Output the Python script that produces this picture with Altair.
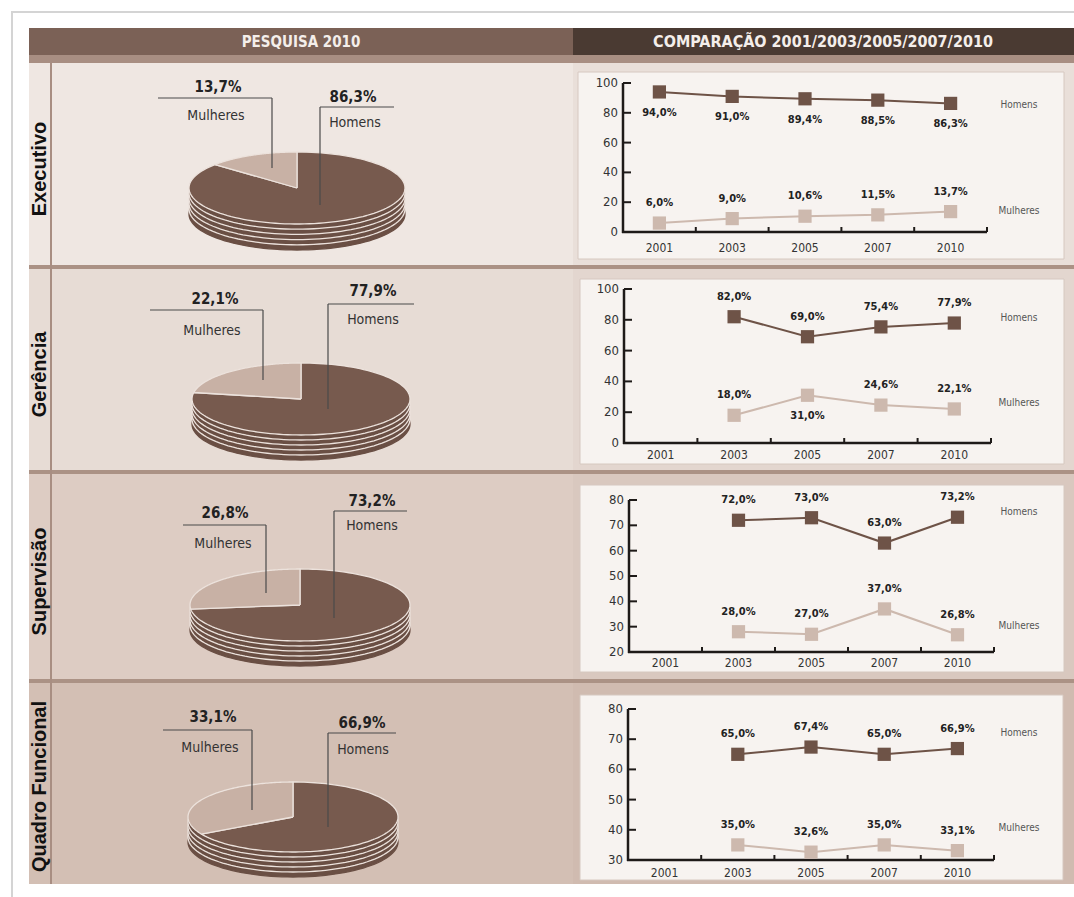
import altair as alt
import pandas as pd

# ---------------- data ----------------
ROW_NAMES = ["Executivo", "Gerência", "Supervisão", "Quadro Funcional"]
YEARS = ["2001", "2003", "2005", "2007", "2010"]
SERIES = ["Homens", "Mulheres"]

exec_homens = [94.0, 91.0, 89.4, 88.5, 86.3]
exec_mulheres = [6.0, 9.0, 10.6, 11.5, 13.7]
ger_homens = [None, 82.0, 69.0, 75.4, 77.9]
ger_mulheres = [None, 18.0, 31.0, 24.6, 22.1]
sup_homens = [None, 72.0, 73.0, 63.0, 73.2]
sup_mulheres = [None, 28.0, 27.0, 37.0, 26.8]
qf_homens = [None, 65.0, 67.4, 65.0, 66.9]
qf_mulheres = [None, 35.0, 32.6, 35.0, 33.1]

pie_homens_2010 = [86.3, 77.9, 73.2, 66.9]
pie_mulheres_2010 = [13.7, 22.1, 26.8, 33.1]

y_domains = [[0, 100], [0, 100], [20, 80], [30, 80]]
y_tick_values = [[0, 20, 40, 60, 80, 100], [0, 20, 40, 60, 80, 100],
                 [20, 30, 40, 50, 60, 70, 80], [30, 40, 50, 60, 70, 80]]

HEADER_LEFT = "PESQUISA 2010"
HEADER_RIGHT = "COMPARAÇÃO 2001/2003/2005/2007/2010"

LINE_DATA = [(exec_homens, exec_mulheres), (ger_homens, ger_mulheres),
             (sup_homens, sup_mulheres), (qf_homens, qf_mulheres)]

# ---------------- layout / style (not data) ----------------
LABELS_BELOW = {(0, "Homens", y) for y in YEARS} | {(1, "Mulheres", "2005")}

ROW_H = [206, 205, 209, 201]
FRAME_W, FRAME_H, BOTTOM_H = 18, 17, 13
LABEL_W, PIE_W, LINE_W, HEADER_H = 23, 521, 501, 35

LAYOUT = [
    dict(pie=dict(cx=245, cy=125, rx=108, ry=36, t=26,
                  m_line=(106, 220, 35, 105), m_pct=(166, 24), m_name=(164, 53),
                  h_line=(268, 342, 44, 142), h_pct=(301, 34), h_name=(303, 60)),
         box=(5, 491, 9, 196), xr=(50, 414), yr=(169, 20), ser_y=(42, 148), xlab=16),
    dict(pie=dict(cx=249, cy=130, rx=109, ry=36, t=25,
                  m_line=(98, 211, 41, 111), m_pct=(163, 30), m_name=(160, 62),
                  h_line=(276, 362, 35, 140), h_pct=(321, 22), h_name=(321, 51)),
         box=(7, 491, 10, 195), xr=(51, 418), yr=(174, 20), ser_y=(49, 134), xlab=12),
    dict(pie=dict(cx=248, cy=131, rx=110, ry=36, t=25,
                  m_line=(131, 214, 51, 119), m_pct=(173, 39), m_name=(171, 70),
                  h_line=(282, 355, 37, 144), h_pct=(320, 27), h_name=(320, 52)),
         box=(7, 491, 11, 198), xr=(56, 421), yr=(178, 26), ser_y=(38, 152), xlab=11),
    dict(pie=dict(cx=241, cy=134, rx=105, ry=35, t=25,
                  m_line=(111, 200, 47, 127), m_pct=(161, 34), m_name=(158, 65),
                  h_line=(276, 344, 50, 144), h_pct=(310, 40), h_name=(311, 67)),
         box=(7, 490, 12, 197), xr=(55, 421), yr=(177, 26), ser_y=(50, 145), xlab=13),
]

C = dict(
    head_l="#7b6156", head_r="#4a3a32", stripe="#a88e82", sep="#ab9285", vline="#a88e82",
    bg_left=["#efe7e2", "#e7dcd5", "#ddccc3", "#d3bfb4"],
    bg_right=["#e9dfd9", "#e3d6cf", "#d9c8bf", "#d0bbb0"],
    box="#f7f3f0", box_edge="#d6c8c0",
    pie_h="#775a4e", pie_side="#6a4f44", pie_m="#c8b1a5", pie_edge="#ece2dc",
    line_h="#6e5347", line_m="#cdb9ae", axis="#1e1a18", text="#222222",
    muted="#555555", head_text="#f4eeea", leader="#4a4a4a", frame="#d4d4d4")

COND = "Liberation Sans Narrow, DejaVu Sans Condensed, Arial Narrow, sans-serif"
BOLD = "Liberation Sans, Arial, sans-serif"

DUMMY = pd.DataFrame({"d": [0]})
N = 120
RING = pd.DataFrame({"k": list(range(N + 1))})


def fmt(v):
    return f"{v:.1f}".replace(".", ",") + "%"


def rect(x0, x1, y0, y1, fill, **kw):
    return alt.Chart(DUMMY).mark_rect(fill=fill, **kw).encode(
        x=alt.value(x0), x2=alt.value(x1), y=alt.value(y0), y2=alt.value(y1))


def hrule(x0, x1, y, color, w):
    return alt.Chart(DUMMY).mark_rule(color=color, strokeWidth=w).encode(
        x=alt.value(x0), x2=alt.value(x1), y=alt.value(y))


def vrule(x, y0, y1, color, w):
    return alt.Chart(DUMMY).mark_rule(color=color, strokeWidth=w).encode(
        x=alt.value(x), y=alt.value(y0), y2=alt.value(y1))


def cell(layers, w, h, fill):
    return alt.layer(*layers).properties(
        width=w, height=h, view=alt.ViewBackground(fill=fill, strokeWidth=0))


def frame_cell(h, top=False, left=True, w=FRAME_W):
    layers = []
    if left:
        layers.append(rect(0, 2, 1 if top else 0, h, C["frame"]))
    if top:
        layers.append(rect(0, w, 0, 2, C["frame"]))
    if not layers:
        layers.append(rect(0, 0, 0, 0, "#ffffff"))
    return cell(layers, w, h, "#ffffff")


def header_cell(text, w, fill, cx, size):
    layers = [rect(0, w, 27, HEADER_H, C["stripe"])]
    if text:
        layers.append(alt.Chart(pd.DataFrame({"t": [text]})).mark_text(
            font=COND, fontSize=size, fontWeight="bold", color=C["head_text"],
            align="center", baseline="middle").encode(
            x=alt.value(cx), y=alt.value(14), text="t:N"))
    return cell(layers, w, HEADER_H, fill)


def label_cell(i):
    H = ROW_H[i]
    txt = alt.Chart(pd.DataFrame({"name": [ROW_NAMES[i]]})).mark_text(
        angle=270, font=BOLD, fontSize=20, fontWeight="bold", color="#111111",
        align="center", baseline="middle").encode(
        x=alt.value(11), y=alt.value(H / 2 + 3), text="name:N")
    layers = []
    if i < 3:
        layers.append(rect(0, LABEL_W, H - 4, H, C["sep"]))
    layers += [rect(21, 23, 0, H, C["vline"]), txt]
    return cell(layers, LABEL_W, H, C["bg_left"][i])


def pie_cell(i):
    H = ROW_H[i]
    P = LAYOUT[i]["pie"]
    xs = alt.Scale(domain=[-1, 1], range=[P["cx"] - P["rx"], P["cx"] + P["rx"]], nice=False, zero=False)
    ys = alt.Scale(domain=[-1, 1], range=[P["cy"] + P["ry"], P["cy"] - P["ry"]], nice=False, zero=False)
    enc = dict(x=alt.X("px:Q", scale=xs, axis=None),
               y=alt.Y("py:Q", scale=ys, axis=None),
               order=alt.Order("k:Q"))
    layers = []
    if i < 3:
        layers.append(rect(0, PIE_W, H - 4, H, C["sep"]))
    # stacked side discs (3D thickness)
    for j in range(5, 0, -1):
        drop = P["t"] * j / 5 / P["ry"]
        layers.append(alt.Chart(RING).transform_calculate(
            px=f"sin(2*PI*datum.k/{N})",
            py=f"cos(2*PI*datum.k/{N}) - {drop}",
        ).mark_line(fill=C["pie_side"], stroke=C["pie_edge"] if j < 5 else C["pie_side"],
                    strokeWidth=1.3).encode(**enc))
    # top surface slices, angles from the 2010 shares
    slice_df = pd.DataFrame([
        {"serie": s, "share": v, "k": k}
        for s, v in (("Homens", pie_homens_2010[i]), ("Mulheres", pie_mulheres_2010[i]))
        for k in range(-1, N + 2)])
    for s, col in (("Homens", C["pie_h"]), ("Mulheres", C["pie_m"])):
        layers.append(alt.Chart(slice_df).transform_filter(
            f"datum.serie == '{s}'"
        ).transform_calculate(
            ang=f"(datum.serie == 'Mulheres' ? -1 : 1) * 2 * PI * datum.share / 100 * clamp(datum.k, 0, {N}) / {N}"
        ).transform_calculate(
            px=f"(datum.k < 0 || datum.k > {N}) ? 0 : sin(datum.ang)",
            py=f"(datum.k < 0 || datum.k > {N}) ? 0 : cos(datum.ang)",
        ).mark_line(fill=col, stroke=C["pie_edge"], strokeWidth=1.3, strokeJoin="round").encode(**enc))
    # leader lines
    ml, hl = P["m_line"], P["h_line"]
    layers += [hrule(ml[0], ml[1], ml[2], C["leader"], 1.2),
               vrule(ml[1], ml[2], ml[3], C["leader"], 1.2),
               hrule(hl[0], hl[1], hl[2], C["leader"], 1.2),
               vrule(hl[0], hl[2], hl[3], C["leader"], 1.2)]
    # texts
    lab = pd.DataFrame({"serie": SERIES,
                        "lbl": [fmt(pie_homens_2010[i]), fmt(pie_mulheres_2010[i])]})
    for s, pct_pos, name_pos in (("Mulheres", P["m_pct"], P["m_name"]),
                                 ("Homens", P["h_pct"], P["h_name"])):
        layers.append(alt.Chart(lab).transform_filter(f"datum.serie == '{s}'").mark_text(
            font=COND, fontSize=15, fontWeight="bold", color=C["text"], baseline="middle").encode(
            x=alt.value(pct_pos[0]), y=alt.value(pct_pos[1]), text="lbl:N"))
        layers.append(alt.Chart(lab).transform_filter(f"datum.serie == '{s}'").mark_text(
            font=COND, fontSize=14, color="#333333", baseline="middle").encode(
            x=alt.value(name_pos[0]), y=alt.value(name_pos[1]), text="serie:N"))
    return cell(layers, PIE_W, H, C["bg_left"][i])


def line_frame(i):
    rows = []
    for serie, vals in zip(SERIES, LINE_DATA[i]):
        for y, v in zip(YEARS, vals):
            if v is None:
                continue
            rows.append(dict(year=y, value=v, serie=serie, lbl=fmt(v),
                             below=(i, serie, y) in LABELS_BELOW))
    return pd.DataFrame(rows)


def line_cell(i):
    H = ROW_H[i]
    L = LAYOUT[i]
    x0, x1 = L["xr"]
    yb, yt = L["yr"]
    df = line_frame(i)
    xs = alt.Scale(type="band", domain=YEARS, range=[x0, x1], paddingInner=0, paddingOuter=0)
    ys = alt.Scale(domain=y_domains[i], range=[yb, yt], nice=False, zero=False)
    cs = alt.Scale(domain=SERIES, range=[C["line_h"], C["line_m"]])
    X = alt.X("year:O", scale=xs, axis=None)
    Y = alt.Y("value:Q", scale=ys, axis=None)
    col = alt.Color("serie:N", scale=cs, legend=None)
    base = alt.Chart(df)
    ticks_df = pd.DataFrame({"t": y_tick_values[i]})
    years_df = pd.DataFrame({"year": YEARS})

    layers = []
    if i < 3:
        layers.append(rect(0, LINE_W, H - 4, H, C["sep"]))
    bx = L["box"]
    layers.append(rect(bx[0], bx[1], bx[2], bx[3], C["box"], stroke=C["box_edge"], strokeWidth=1))
    # axis lines
    layers.append(vrule(x0, yb + 1, yt, C["axis"], 2.5))
    layers.append(hrule(x0 - 1, x1, yb, C["axis"], 2.5))
    # y ticks (inward) and labels
    layers.append(alt.Chart(ticks_df).mark_rule(color=C["axis"], strokeWidth=2).encode(
        y=alt.Y("t:Q", scale=ys, axis=None), x=alt.value(x0), x2=alt.value(x0 + 8)))
    layers.append(alt.Chart(ticks_df).mark_text(
        font=COND, fontSize=13, color="#333333", align="right", baseline="middle").encode(
        y=alt.Y("t:Q", scale=ys, axis=None), x=alt.value(x0 - 5), text="t:Q"))
    # x ticks (upward at band edges) and labels
    layers.append(alt.Chart(years_df).mark_rule(color=C["axis"], strokeWidth=2).encode(
        x=alt.X("year:O", scale=xs, axis=None, bandPosition=1),
        y=alt.value(yb), y2=alt.value(yb - 5)))
    layers.append(alt.Chart(years_df).mark_text(
        font=COND, fontSize=12, color="#333333", baseline="middle").encode(
        x=X, y=alt.value(yb + L["xlab"]), text="year:N"))
    # series
    layers.append(base.mark_line(strokeWidth=2).encode(x=X, y=Y, color=col))
    layers.append(base.mark_square(size=175, opacity=1).encode(x=X, y=Y, color=col))
    layers.append(base.transform_filter("!datum.below").mark_text(
        dy=-20, font=COND, fontSize=11, fontWeight="bold", color=C["text"]).encode(
        x=X, y=Y, text="lbl:N"))
    layers.append(base.transform_filter("datum.below").mark_text(
        dy=21, font=COND, fontSize=11, fontWeight="bold", color=C["text"]).encode(
        x=X, y=Y, text="lbl:N"))
    names = pd.DataFrame({"serie": SERIES})
    for s, yy in zip(SERIES, L["ser_y"]):
        layers.append(alt.Chart(names).transform_filter(f"datum.serie == '{s}'").mark_text(
            font=COND, fontSize=10, color=C["muted"], baseline="middle").encode(
            x=alt.value(446), y=alt.value(yy), text="serie:N"))
    return cell(layers, LINE_W, H, C["bg_right"][i])


cells = [frame_cell(FRAME_H, top=True),
         frame_cell(FRAME_H, top=True, left=False, w=LABEL_W),
         frame_cell(FRAME_H, top=True, left=False, w=PIE_W),
         frame_cell(FRAME_H, top=True, left=False, w=LINE_W)]
cells += [frame_cell(HEADER_H),
          header_cell("", LABEL_W, C["head_l"], 0, 15),
          header_cell(HEADER_LEFT, PIE_W, C["head_l"], 249, 15),
          header_cell(HEADER_RIGHT, LINE_W, C["head_r"], 250, 16)]
for i in range(4):
    cells += [frame_cell(ROW_H[i]), label_cell(i), pie_cell(i), line_cell(i)]
cells += [frame_cell(BOTTOM_H),
          frame_cell(BOTTOM_H, left=False, w=LABEL_W),
          frame_cell(BOTTOM_H, left=False, w=PIE_W),
          frame_cell(BOTTOM_H, left=False, w=LINE_W)]

chart = alt.concat(*cells, columns=4, spacing=0, bounds="flush").properties(
    padding={"left": 11, "top": 11, "right": 0, "bottom": 0},
    background="#ffffff",
).configure_view(strokeWidth=0)

chart.save("out.html", embed_options={"renderer": "svg", "actions": False})
